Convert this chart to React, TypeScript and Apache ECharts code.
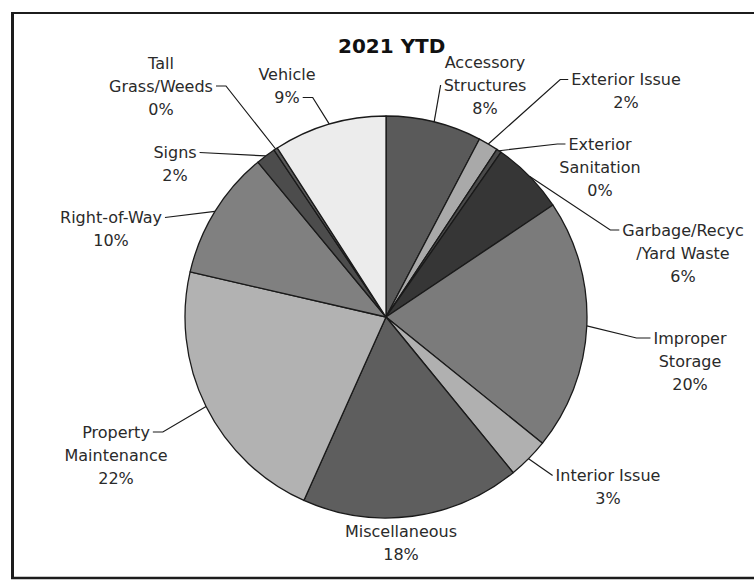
import React, { useEffect, useRef } from "react";
import * as echarts from "echarts";

// ---- data ----
const categories = [
  "Accessory Structures",
  "Exterior Issue",
  "Exterior Sanitation",
  "Garbage/Recyc/Yard Waste",
  "Improper Storage",
  "Interior Issue",
  "Miscellaneous",
  "Property Maintenance",
  "Right-of-Way",
  "Signs",
  "Tall Grass/Weeds",
  "Vehicle",
];
const labelNames = [
  "Accessory\nStructures",
  "Exterior Issue",
  "Exterior\nSanitation",
  "Garbage/Recyc\n/Yard Waste",
  "Improper\nStorage",
  "Interior Issue",
  "Miscellaneous",
  "Property\nMaintenance",
  "Right-of-Way",
  "Signs",
  "Tall\nGrass/Weeds",
  "Vehicle",
];
const shares = [7.7, 1.6, 0.4, 5.9, 20.2, 3.3, 17.6, 21.9, 10.4, 1.6, 0.3, 9.1];
const titleText = "2021 YTD";

// ---- styles / layout ----
const sliceColors = [
  "#5a5a5a", "#a9a9a9", "#4a4a4a", "#363636", "#7b7b7b", "#b0b0b0",
  "#5e5e5e", "#b2b2b2", "#808080", "#4c4c4c", "#5a5a5a", "#ececec",
];
const CX = 386;
const CY = 317;
const R = 201;
const FONT = "DejaVu Sans";
const FONT_SIZE = 16;
const LINE_H = 23;
const labelCenters = [
  [485, 85], [626, 91], [600, 167], [683, 253], [690, 361], [608, 487],
  [401, 543], [116, 455], [111, 229], [175, 164], [161, 86], [287, 86],
];
// [line index, side (-1 = attach at left, 1 = attach at right), stub length]
const leaders: (number[] | null)[] = [
  [1, -1, 0], [0, -1, 8], [0, -1, 8], [0, -1, 9], [0, -1, 14], [0, -1, 0],
  null, [0, 1, 10], [0, 1, 0], [0, 1, 0], [1, 1, 10], [1, 1, 10],
];

let measureCtx: CanvasRenderingContext2D | null = null;
function textWidth(s: string): number {
  if (!measureCtx) {
    const c = document.createElement("canvas");
    measureCtx = c.getContext("2d");
  }
  if (!measureCtx) return s.length * 9;
  measureCtx.font = `${FONT_SIZE}px "${FONT}"`;
  return measureCtx.measureText(s).width;
}

function edgePoint(idx: number): number[] {
  const total = shares.reduce((a, b) => a + b, 0);
  let before = 0;
  for (let i = 0; i < idx; i++) before += shares[i];
  const mid = ((before + shares[idx] / 2) / total) * Math.PI * 2;
  return [CX + R * Math.sin(mid), CY - R * Math.cos(mid)];
}

export default function App() {
  const ref = useRef<HTMLDivElement>(null);
  useEffect(() => {
    if (!ref.current) return;
    const chart = echarts.init(ref.current, undefined, { renderer: "svg" });
    const total = shares.reduce((a, b) => a + b, 0);
    const data = categories.map((name, i) => ({
      name,
      value: shares[i],
      itemStyle: { color: sliceColors[i] },
      labelLine: { show: leaders[i] !== null },
    }));
    chart.setOption({
      animation: false,
      backgroundColor: "#ffffff",
      title: {
        text: titleText,
        left: 333,
        top: 31,
        textStyle: {
          fontFamily: FONT,
          fontWeight: "bold",
          fontSize: 20,
          color: "#111111",
        },
      },
      graphic: [
        {
          type: "line",
          shape: { x1: 11, y1: 13, x2: 754, y2: 13 },
          style: { stroke: "#1c1c1c", lineWidth: 2 },
          silent: true,
        },
        {
          type: "line",
          shape: { x1: 12.5, y1: 12, x2: 12.5, y2: 579 },
          style: { stroke: "#1c1c1c", lineWidth: 3 },
          silent: true,
        },
        {
          type: "line",
          shape: { x1: 11, y1: 578, x2: 754, y2: 578 },
          style: { stroke: "#1c1c1c", lineWidth: 2.5 },
          silent: true,
        },
      ],
      series: [
        {
          type: "pie",
          center: [CX, CY],
          radius: [0, R],
          startAngle: 90,
          clockwise: true,
          avoidLabelOverlap: false,
          minShowLabelAngle: 0,
          itemStyle: { borderColor: "#1a1a1a", borderWidth: 1.3 },
          label: {
            show: true,
            position: "outside",
            fontFamily: FONT,
            fontSize: FONT_SIZE,
            lineHeight: LINE_H,
            color: "#2a2a2a",
            align: "center",
            formatter: (p: any) =>
              `${labelNames[p.dataIndex]}\n${Math.round((p.value / total) * 100)}%`,
          },
          labelLine: {
            show: true,
            length: 10,
            length2: 10,
            lineStyle: { color: "#1a1a1a", width: 1.2 },
          },
          labelLayout: (params: any) => {
            const i = params.dataIndex;
            const [lx, ly] = labelCenters[i];
            const out: any = { x: lx, y: ly, align: "center", verticalAlign: "middle" };
            const spec = leaders[i];
            if (spec) {
              const lines = `${labelNames[i]}\n${Math.round((shares[i] / total) * 100)}%`.split("\n");
              const n = lines.length;
              const [li, side, stub] = spec;
              const y = ly - ((n - 1) * LINE_H) / 2 + li * LINE_H;
              const ax = lx + side * (textWidth(lines[li]) / 2 + 3);
              const start =
                params.labelLinePoints && params.labelLinePoints[0]
                  ? params.labelLinePoints[0]
                  : edgePoint(i);
              out.labelLinePoints = [start, [ax + side * stub, y], [ax, y]];
            }
            return out;
          },
          data,
        },
      ],
    });
    return () => chart.dispose();
  }, []);
  return (
    <div
      ref={ref}
      style={{ position: "fixed", left: 0, top: 0, width: 756, height: 582, background: "#fff" }}
    />
  );
}
